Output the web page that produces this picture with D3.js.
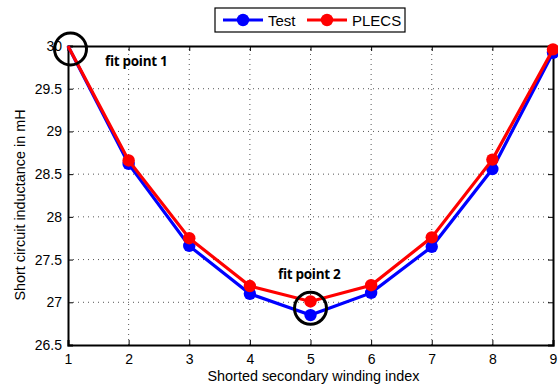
<!DOCTYPE html>
<html><head><meta charset="utf-8">
<script src="https://cdn.jsdelivr.net/npm/d3@7"></script>
<style>body{margin:0;background:#fff}svg{display:block}</style>
</head><body>
<script>
const windingIndex = [1,2,3,4,5,6,7,8,9];
const testValues  = [30.0, 28.62, 27.66, 27.10, 26.85, 27.11, 27.65, 28.56, 29.92];
const plecsValues = [30.0, 28.66, 27.75, 27.19, 27.01, 27.20, 27.76, 28.67, 29.96];
const xTicks = [1,2,3,4,5,6,7,8,9];
const yTicks = [26.5,27,27.5,28,28.5,29,29.5,30];
const seriesNames = ["Test","PLECS"];
const seriesColors = ["#0000ff","#ff0000"];
const fitPoints = [{label:"fit point 1", idx:0}, {label:"fit point 2", idx:4}];

const W=558,H=387;
const m={left:68,right:5,top:46,bottom:42};
const svg=d3.select("body").append("svg").attr("width",W).attr("height",H);
const x=d3.scaleLinear().domain([1,9]).range([m.left,W-m.right]);
const y=d3.scaleLinear().domain([26.5,30]).range([H-m.bottom,m.top]);
const font="Liberation Sans, Arial, Helvetica, sans-serif";

// grid
const g=svg.append("g");
g.selectAll(".gx").data(xTicks.slice(1,-1)).join("line")
 .attr("x1",d=>x(d)).attr("x2",d=>x(d)).attr("y1",y(26.5)).attr("y2",y(30))
 .attr("stroke","#555").attr("stroke-width",1).attr("stroke-dasharray","1,4");
g.selectAll(".gy").data(yTicks.slice(1,-1)).join("line")
 .attr("y1",d=>y(d)).attr("y2",d=>y(d)).attr("x1",x(1)).attr("x2",x(9))
 .attr("stroke","#555").attr("stroke-width",1).attr("stroke-dasharray","1,4");

// axes
const xAx=d3.axisBottom(x).tickValues(xTicks).tickSize(-5).tickPadding(9).tickFormat(d3.format("d"));
const yAx=d3.axisLeft(y).tickValues(yTicks).tickSize(-5).tickPadding(6).tickFormat(d=>String(d));
const xa=svg.append("g").attr("transform",`translate(0,${y(26.5)})`).call(xAx);
const ya=svg.append("g").attr("transform",`translate(${x(1)},0)`).call(yAx);
const xt=svg.append("g").attr("transform",`translate(0,${y(30)})`).call(d3.axisTop(x).tickValues(xTicks).tickSize(-5).tickFormat(""));
const yr=svg.append("g").attr("transform",`translate(${x(9)},0)`).call(d3.axisRight(y).tickValues(yTicks).tickSize(-5).tickFormat(""));
[xa,ya,xt,yr].forEach(a=>{
  a.select(".domain").attr("stroke","#000").attr("stroke-width",2);
  a.selectAll(".tick line").attr("stroke","#000").attr("stroke-width",1);
  a.selectAll("text").attr("font-family",font).attr("font-size",14).attr("fill","#000");
});

// series
const series=[testValues,plecsValues];
const line=d3.line().x((d,i)=>x(windingIndex[i])).y(d=>y(d));
series.forEach((vals,k)=>{
  svg.append("path").datum(vals).attr("d",line).attr("fill","none")
    .attr("stroke",seriesColors[k]).attr("stroke-width",3.2);
  svg.selectAll(".m"+k).data(vals.map((v,i)=>({v,i})).filter(d=>d.i>0)).join("circle")
    .attr("cx",d=>x(windingIndex[d.i])).attr("cy",d=>y(d.v)).attr("r",6.2)
    .attr("fill",seriesColors[k]);
});

// fit point annotations
svg.append("circle").attr("cx",x(1)+2.5).attr("cy",y(plecsValues[0])+3).attr("r",16)
  .attr("fill","none").attr("stroke","#000").attr("stroke-width",3);
svg.append("circle").attr("cx",x(5)).attr("cy",(y(testValues[4])+y(plecsValues[4]))/2).attr("r",16)
  .attr("fill","none").attr("stroke","#000").attr("stroke-width",3);
svg.append("text").attr("x",105).attr("y",66).text(fitPoints[0].label)
  .attr("font-family","Open Sans, sans-serif").attr("font-weight","bold").attr("font-size",13.5).attr("letter-spacing","-0.3");
svg.append("text").attr("x",278).attr("y",279).text(fitPoints[1].label)
  .attr("font-family","Open Sans, sans-serif").attr("font-weight","bold").attr("font-size",13.5).attr("letter-spacing","-0.3");

// axis labels
svg.append("text").attr("x",x(5)+3).attr("y",381).attr("text-anchor","middle")
  .attr("font-family",font).attr("font-size",14.4).text("Shorted secondary winding index");
svg.append("text").attr("transform",`translate(25,205) rotate(-90)`)
  .attr("text-anchor","middle").attr("font-family",font).attr("font-size",14.4)
  .text("Short circuit inductance in mH");

// legend
const lg=svg.append("g");
lg.append("rect").attr("x",215).attr("y",8).attr("width",190).attr("height",24)
  .attr("fill","#fff").attr("stroke","#000").attr("stroke-width",1.2);
const lx=[223,307], tx=[268,352];
seriesNames.forEach((n,k)=>{
  lg.append("line").attr("x1",lx[k]).attr("x2",lx[k]+40).attr("y1",20).attr("y2",20)
    .attr("stroke",seriesColors[k]).attr("stroke-width",3.2);
  lg.append("circle").attr("cx",lx[k]+20).attr("cy",20).attr("r",6.2).attr("fill",seriesColors[k]);
  lg.append("text").attr("x",tx[k]).attr("y",25.5).attr("font-family",font).attr("font-size",15).text(n);
});
</script>
</body></html>
